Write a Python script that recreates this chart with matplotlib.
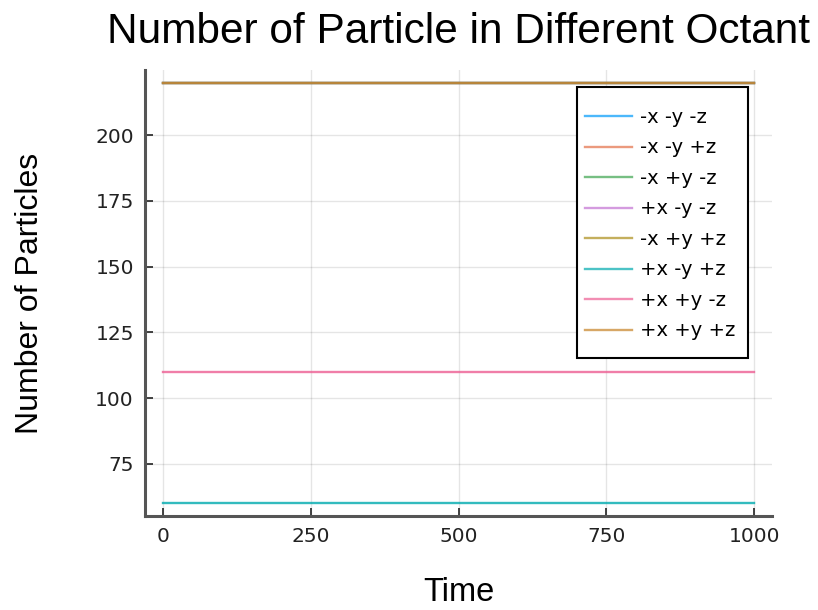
import matplotlib
matplotlib.use("Agg")
import matplotlib.pyplot as plt
from matplotlib.patches import Rectangle
import numpy as np

plt.rcParams['font.family'] = ['Liberation Sans', 'DejaVu Sans']

time = np.array([0, 1000])
labels = ["-x -y -z", "-x -y +z", "-x +y -z", "+x -y -z",
          "-x +y +z", "+x -y +z", "+x +y -z", "+x +y +z"]
counts = [220, 220, 220, 220, 220, 60, 110, 220]
colors = ["#009AFA", "#E36F47", "#3EA44E", "#C371D2",
          "#AC8E18", "#00AAAE", "#ED5E93", "#C68225"]
xticks = [0, 250, 500, 750, 1000]
yticks = [75, 100, 125, 150, 175, 200]

W, H = 818, 610
fig = plt.figure(figsize=(W / 100, H / 100), dpi=100)
L, R, T, B = 145, 772, 70, 516
ax = fig.add_axes([L / W, 1 - B / H, (R - L) / W, (B - T) / H])

for lab, c, col in zip(labels, counts, colors):
    ax.plot(time, [c, c], color=col, lw=1.7, alpha=0.55 if c == 220 else 0.8, label=lab)

ax.set_xlim(-30, 1030)
ax.set_ylim(55.2, 224.8)
ax.set_xticks(xticks)
ax.set_yticks(yticks)
ax.tick_params(direction='in', length=6, width=1.2, color='#222222',
               labelsize=14.5, pad=8, labelcolor='#222222')
for t in ax.get_xticklabels() + ax.get_yticklabels():
    t.set_family('DejaVu Sans')
ax.grid(True, color='black', alpha=0.1, lw=1)
for s in ['top', 'right']:
    ax.spines[s].set_visible(False)
for s in ['left', 'bottom']:
    ax.spines[s].set_linewidth(2.2)
    ax.spines[s].set_color('#555555')

fig.text((L + R) / 2 / W, 1 - 43 / H, "Number of Particle in Different Octant",
         ha='center', va='baseline', fontsize=30.5)
fig.text((L + R) / 2 / W, 1 - 601 / H, "Time", ha='center', va='baseline', fontsize=23.5)
fig.text(30 / W, 1 - 293 / H, "Number of Particles", ha='center', va='center',
         rotation=90, fontsize=23)

# legend frame
fx0, fx1, fy0, fy1 = 577, 748, 87, 358
ax.add_patch(Rectangle(((fx0 - L) / (R - L), (B - fy1) / (B - T)),
                       (fx1 - fx0) / (R - L), (fy1 - fy0) / (B - T),
                       transform=ax.transAxes, fill=True, facecolor='white',
                       edgecolor='black', lw=1.5, zorder=5))
leg = ax.legend(loc='upper left',
                bbox_to_anchor=((fx0 + 8 - L) / (R - L), (B - fy0 - 21) / (B - T)),
                frameon=False, handlelength=2.42, handletextpad=0.41,
                labelspacing=0.59, borderpad=0, borderaxespad=0,
                prop={'family': 'DejaVu Sans', 'size': 14})
leg.set_zorder(6)
for h in leg.get_lines():
    h.set_alpha(0.7)

fig.savefig("out.png", dpi=100)
